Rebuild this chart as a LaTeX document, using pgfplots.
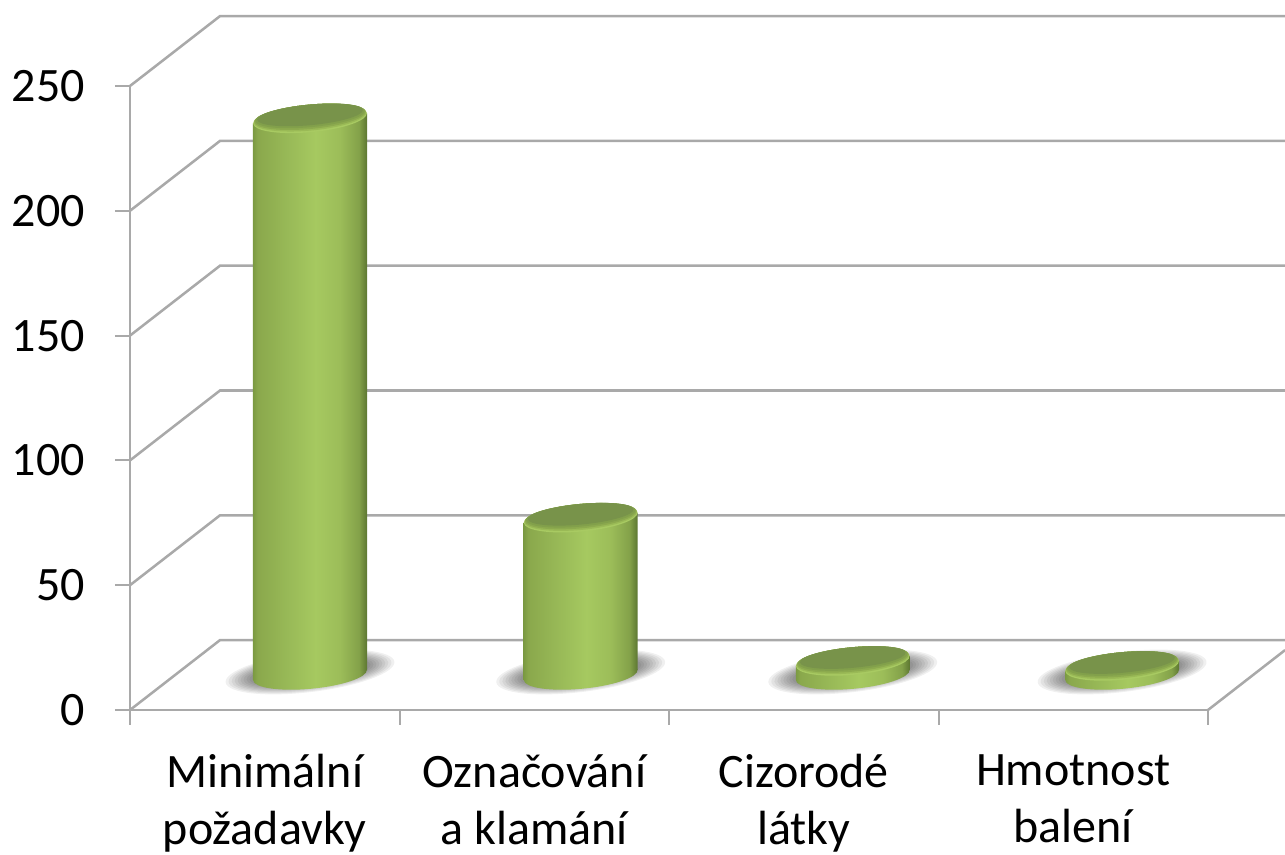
\documentclass[border=0pt]{standalone}
\usepackage{pgfplots}
\pgfplotsset{compat=1.18}
\usepackage{fontspec}
\setmainfont{Carlito}
\definecolor{gridg}{HTML}{A9A9A9}
\definecolor{rimA}{HTML}{A8CA62}
\definecolor{rimB}{HTML}{9ABA56}
\definecolor{rimC}{HTML}{8CAA4E}
\definecolor{rimC2}{HTML}{82A04B}
\definecolor{rimD}{HTML}{78934A}
\definecolor{sa}{HTML}{7B9A42}
\definecolor{sb}{HTML}{8AA84C}
\definecolor{sc}{HTML}{98B957}
\definecolor{sd}{HTML}{A6C960}
\definecolor{se}{HTML}{9CBD59}
\definecolor{sf}{HTML}{83A149}
\definecolor{sg}{HTML}{5C7631}
\pgfdeclarehorizontalshading{cylshade}{100bp}{
 color(0bp)=(sa);
 color(25bp)=(sa);
 color(27bp)=(sb);
 color(40bp)=(sc);
 color(52.5bp)=(sd);
 color(63bp)=(se);
 color(71.5bp)=(sf);
 color(75bp)=(sg);
 color(100bp)=(sg)}
\newcommand\cylell[4]{%
 \pgfpathellipse{\pgfpoint{0pt}{#1*0.75pt}}{\pgfpointpolar{5.3}{#2*0.75pt}}{\pgfpointpolar{95.3}{#3*0.75pt}}%
 \pgfsetfillcolor{#4}\pgfusepathqfill}
\pgfdeclareplotmark{cyltop}{%
 \cylell{0}{57.1}{13.8}{rimA}%
 \cylell{0.8}{56.6}{13}{rimB}%
 \cylell{1.6}{56}{12.2}{rimC}%
 \cylell{2.5}{55}{11.3}{rimC2}%
 \cylell{3.5}{53}{10.3}{rimD}%
}
\pgfdeclareplotmark{cylbase}{%
 \pgfpathellipse{\pgfpointorigin}{\pgfpointpolar{5.3}{57.1*0.75pt}}{\pgfpointpolar{95.3}{13.8*0.75pt}}%
 \pgfshadepath{cylshade}{0}\pgfusepath{discard}%
}
\newcommand\shadell[2]{%
 \pgfpathellipse{\pgfpoint{0pt}{2.25pt}}{\pgfpointpolar{7}{#1*0.75pt}}{\pgfpointpolar{97}{#2*0.75pt}}\pgfusepathqfill}
\pgfdeclareplotmark{cylshadow}{%
 \pgfsetfillcolor{black}\pgfsetfillopacity{0.06}%
 \shadell{85}{20}\shadell{82}{19}\shadell{79}{18}\shadell{76}{17}\shadell{73}{16}%
 \shadell{70}{15}\shadell{67}{14}\shadell{64}{13}\shadell{61}{12}%
}
\pgfplotsset{cylaxis/.style={
  at={(130.99pt,135pt)},anchor=south west,scale only axis,
  width=812.1pt,height=468pt,
  xmin=0,xmax=4,ymin=0,ymax=250,clip=false,hide axis}}
\begin{document}
\begin{tikzpicture}
\useasboundingbox (0,0) rectangle (963.75pt,641.25pt);
\begin{axis}[
  at={(97.5pt,108.75pt)},anchor=south west,scale only axis,
  width=808.5pt,height=468pt,
  xmin=0,xmax=4,ymin=0,ymax=250,clip=false,
  axis x line=bottom,axis y line=left,
  axis line style={draw=gridg,line width=1.5pt,-},
  tick style={draw=gridg,line width=1.5pt},
  tick align=outside,major tick length=11.25pt,
  ytick={0,50,100,150,200,250},
  xtick={0,1,2,3,4},xticklabels={},
  extra x ticks={0.5,1.5,2.5,3.5},
  extra x tick labels={Minimální\\požadavky,Označování\\a klamání,Cizorodé\\látky,Hmotnost\\balení},
  extra x tick style={major tick length=0pt,tick style={draw=none},
    tick label style={align=center,inner sep=0pt,yshift=-33pt}},
  /pgf/number format/assume math mode=true,
  tick label style={font=\fontsize{36}{43}\selectfont},
  y tick label style={inner sep=0pt,xshift=-22.5pt},
  ]
\addplot[gridg,line width=1.9pt,forget plot] coordinates {(0,0)(0.334,28)(4.286,28)};
\addplot[gridg,line width=1.9pt,forget plot] coordinates {(0,50)(0.334,78)(4.286,78)};
\addplot[gridg,line width=1.9pt,forget plot] coordinates {(0,100)(0.334,128)(4.286,128)};
\addplot[gridg,line width=1.9pt,forget plot] coordinates {(0,150)(0.334,178)(4.286,178)};
\addplot[gridg,line width=1.9pt,forget plot] coordinates {(0,200)(0.334,228)(4.286,228)};
\addplot[gridg,line width=1.9pt,forget plot] coordinates {(0,250)(0.334,278)(4.286,278)};
\addplot[gridg,line width=1.9pt,forget plot] coordinates {(4,0)(4.286,24)};
\end{axis}
\begin{axis}[cylaxis]
\addplot[only marks,mark=cylshadow] coordinates {(0.5,0)(1.5,0)(2.505,0)(3.5,0)};
\end{axis}
\begin{axis}[cylaxis]
\addplot[only marks,mark=cylbase] coordinates {(0.5,0)(1.5,0)(2.505,0)(3.5,0)};
\end{axis}
\begin{axis}[cylaxis]
\addplot[shading=cylshade,draw=none,no markers] coordinates {(0.2894,-2)(0.2894,221)(0.7106,225)(0.7106,2)(0.2894,-2)};
\addplot[shading=cylshade,draw=none,no markers] coordinates {(1.2894,-2)(1.2894,61)(1.7106,65)(1.7106,2)(1.2894,-2)};
\addplot[shading=cylshade,draw=none,no markers] coordinates {(2.2944,-2)(2.2944,3.6)(2.7156,7.6)(2.7156,2)(2.2944,-2)};
\addplot[shading=cylshade,draw=none,no markers] coordinates {(3.2894,-2)(3.2894,1.6)(3.7106,5.6)(3.7106,2)(3.2894,-2)};
\end{axis}
\begin{axis}[cylaxis]
\addplot[only marks,mark=cyltop] coordinates {(0.5,223)(1.5,63)(2.505,5.6)(3.5,3.6)};
\end{axis}
\end{tikzpicture}
\end{document}
